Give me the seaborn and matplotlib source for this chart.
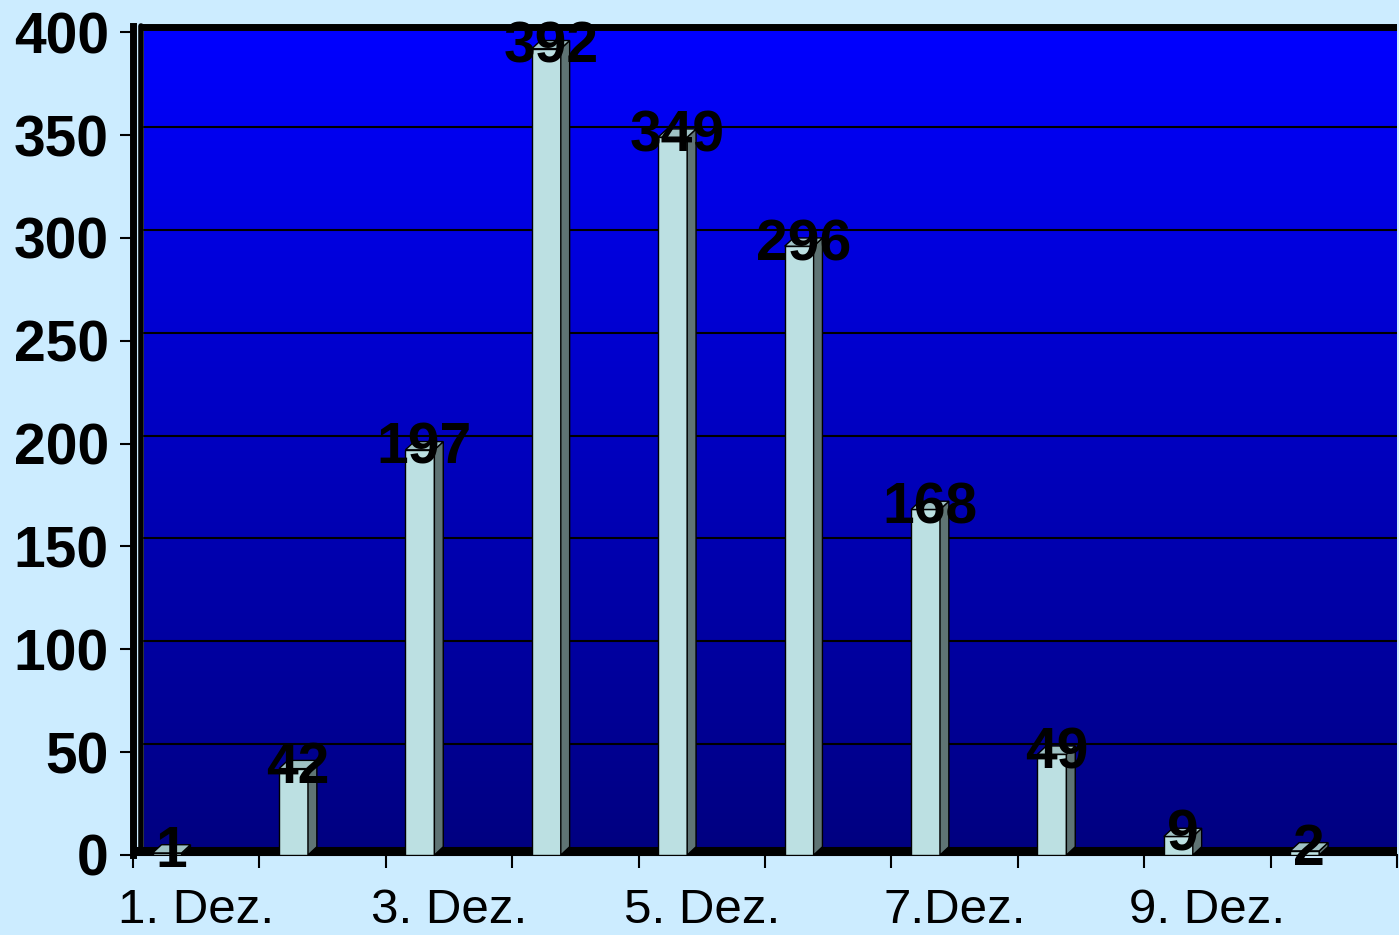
import numpy as np
import pandas as pd
import matplotlib.pyplot as plt
from matplotlib.patches import Polygon
from matplotlib.colors import LinearSegmentedColormap
import seaborn as sns

# Data: daily counts, 1.-10. December
days = ["1. Dez.", "2. Dez.", "3. Dez.", "4. Dez.", "5. Dez.",
        "6. Dez.", "7. Dez.", "8. Dez.", "9. Dez.", "10. Dez."]
counts = [1, 42, 197, 392, 349, 296, 168, 49, 9, 2]
tick_pos = [0, 2, 4, 6, 8]
tick_labels = ["1. Dez.", "3. Dez.", "5. Dez.", "7.Dez.", "9. Dez."]
y_ticks = [0, 50, 100, 150, 200, 250, 300, 350, 400]

df = pd.DataFrame({"day": days, "count": counts})

sns.set_style("white")
plt.rcParams["font.family"] = ["Liberation Sans", "DejaVu Sans"]

fig = plt.figure(figsize=(13.99, 9.35), dpi=100, facecolor="#CCECFF")
ax = fig.add_axes([133 / 1399, 1 - 855 / 935, (1397 - 133) / 1399, (855 - 22) / 935])
ax.set_facecolor("#CCECFF")

# back wall with blue gradient
grad = np.linspace(0, 1, 256).reshape(-1, 1)
wall = LinearSegmentedColormap.from_list("wall", ["#000080", "#0000FF"])
ax.imshow(grad, extent=(-0.41, 9.6, 0, 402), origin="lower", aspect="auto",
          cmap=wall, zorder=0)

# gridlines on the back wall (shifted a bit up for the 3D look)
for v in y_ticks[1:-1]:
    ax.plot([-0.41, 9.6], [v + 3.9, v + 3.9], color="black", lw=1.5, zorder=1)
ax.plot([-0.43, 9.6], [402.7, 402.7], color="black", lw=5, zorder=1,
        solid_capstyle="butt")
ax.axvline(-0.433, ymax=403 / 405, color="black", lw=4, zorder=1)
ax.axhline(1.95, color="black", lw=5.8, zorder=1)

sns.barplot(data=df, x="day", y="count", width=0.229, color="#BCE0E2",
            saturation=1, edgecolor="black", linewidth=1, ax=ax, zorder=3)

dx, dy = 0.07, 4.0
for p, v in zip(ax.patches, counts):
    p.set_x(p.get_x() - 0.23)
    x0, w, h = p.get_x(), p.get_width(), p.get_height()
    side = Polygon([(x0 + w, 0), (x0 + w + dx, dy), (x0 + w + dx, h + dy), (x0 + w, h)],
                   closed=True, facecolor="#5F7474", edgecolor="black", lw=1, zorder=3)
    top = Polygon([(x0, h), (x0 + dx, h + dy), (x0 + w + dx, h + dy), (x0 + w, h)],
                  closed=True, facecolor="#9FC2C4", edgecolor="black", lw=1, zorder=3)
    ax.add_patch(side)
    ax.add_patch(top)
    ax.text(x0 + w / 2 + 0.035, h + 0.5, str(v), ha="center", va="center",
            fontsize=41, fontweight="bold", color="black", zorder=5)

ax.set_xlim(-0.5, 9.5)
ax.set_ylim(0, 405)
ax.set_xlabel("")
ax.set_ylabel("")

ax.set_yticks(y_ticks)
ax.set_yticklabels([str(t) for t in y_ticks], fontsize=41, fontweight="bold")
ax.set_xticks(tick_pos)
ax.set_xticklabels(tick_labels, fontsize=35.5)
ax.set_xticks(np.arange(-0.5, 10, 1), minor=True)
ax.tick_params(axis="y", left=True, length=9.4, width=1.5, pad=8, color="black",
               labelcolor="black")
ax.tick_params(axis="x", which="major", bottom=True, length=0, pad=24,
               labelcolor="black")
ax.tick_params(axis="x", which="minor", bottom=True, length=9, width=1.5, color="black")

for s in ["top", "right"]:
    ax.spines[s].set_visible(False)
ax.spines["left"].set_linewidth(5)
ax.spines["left"].set_color("black")
ax.spines["left"].set_bounds(0, 403)
ax.spines["bottom"].set_linewidth(1.5)
ax.spines["bottom"].set_color("black")

fig.savefig("out.png", dpi=100, facecolor=fig.get_facecolor())
